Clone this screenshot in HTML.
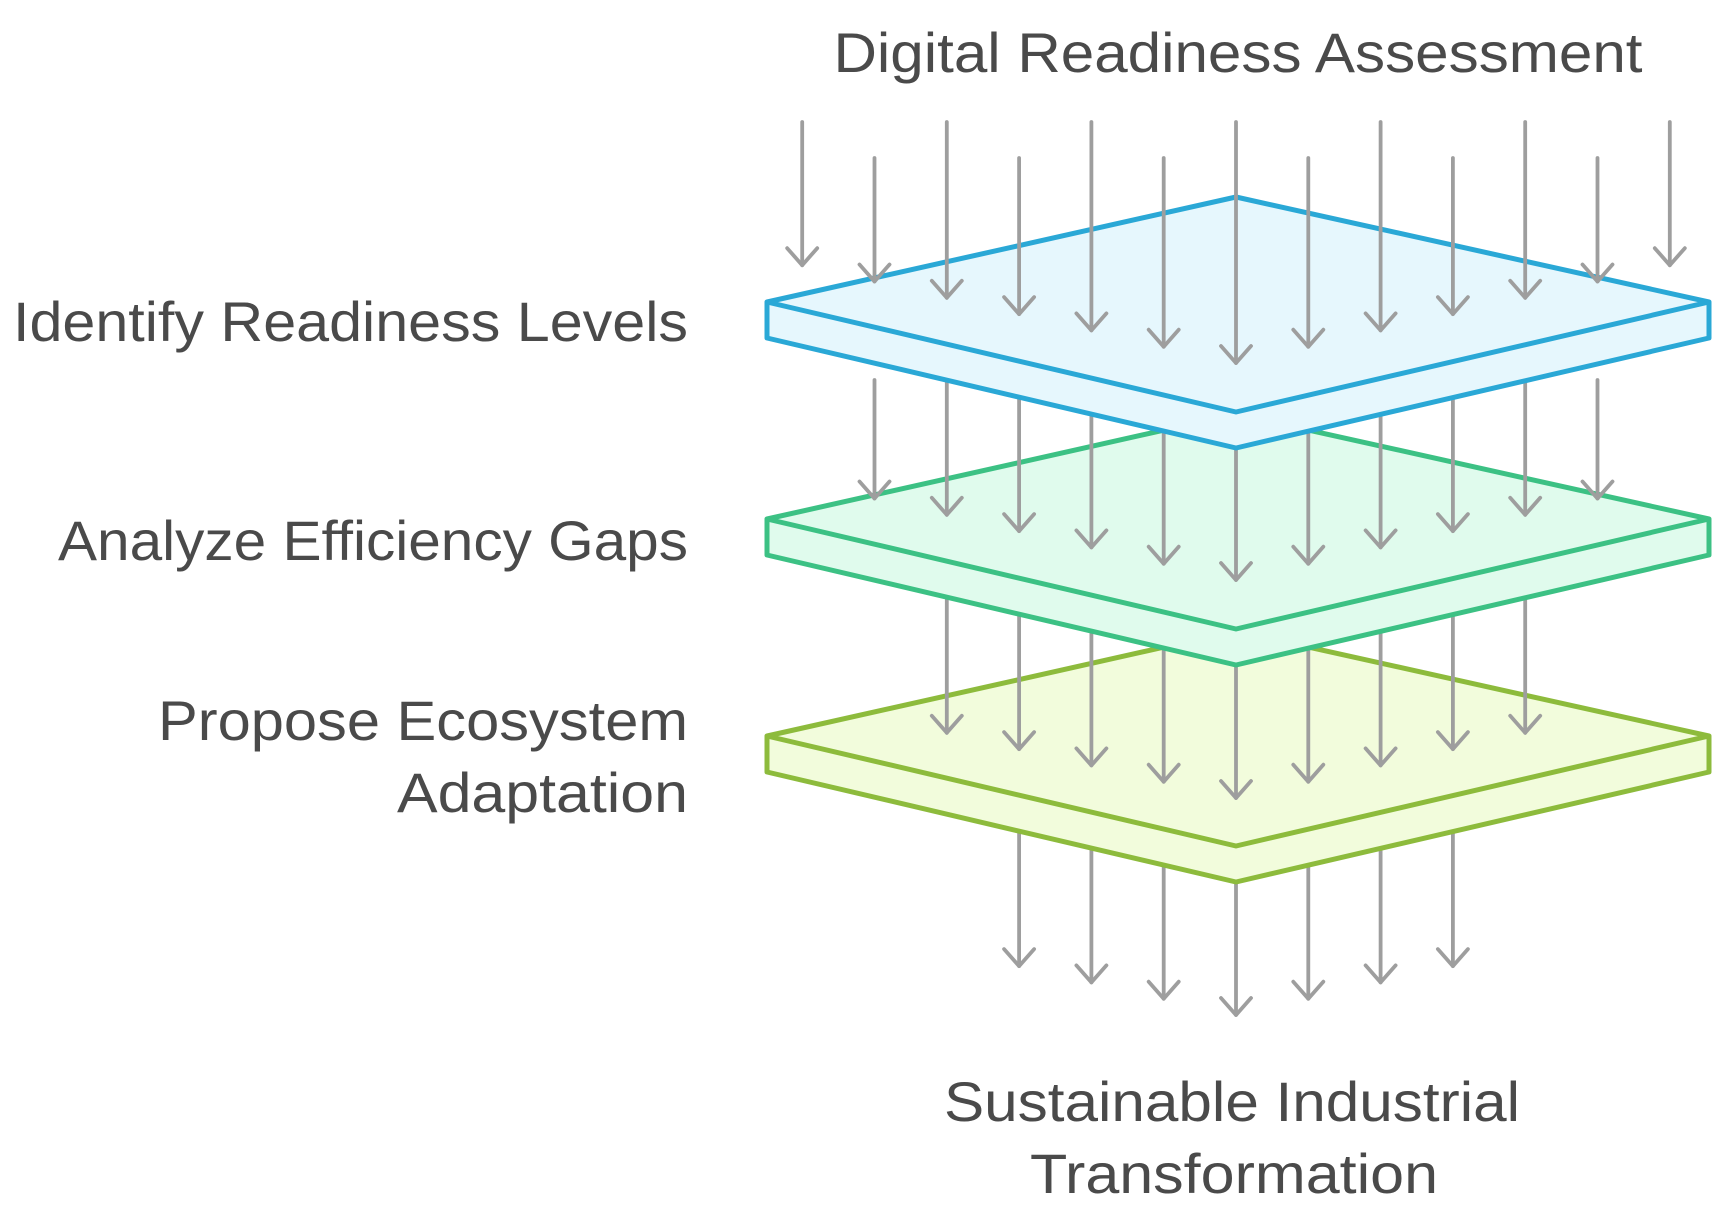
<!DOCTYPE html>
<html><head><meta charset="utf-8"><style>
html,body{margin:0;padding:0;background:#fff;}
svg{display:block;}
text{font-family:"Liberation Sans",sans-serif;fill:#4a4a4a;font-size:56px;}
</style></head><body>
<svg width="1728" height="1212" viewBox="0 0 1728 1212" xmlns="http://www.w3.org/2000/svg">
<g id="all"></g>
<text x="1238" y="72" text-anchor="middle" textLength="809" lengthAdjust="spacingAndGlyphs">Digital Readiness Assessment</text>
<text x="688" y="341" text-anchor="end" textLength="675" lengthAdjust="spacingAndGlyphs">Identify Readiness Levels</text>
<text x="688" y="560" text-anchor="end" textLength="630" lengthAdjust="spacingAndGlyphs">Analyze Efficiency Gaps</text>
<text x="688" y="740" text-anchor="end" textLength="530" lengthAdjust="spacingAndGlyphs">Propose Ecosystem</text>
<text x="688" y="812" text-anchor="end" textLength="291" lengthAdjust="spacingAndGlyphs">Adaptation</text>
<text x="1232" y="1121" text-anchor="middle" textLength="576" lengthAdjust="spacingAndGlyphs">Sustainable Industrial</text>
<text x="1234" y="1193" text-anchor="middle" textLength="408" lengthAdjust="spacingAndGlyphs">Transformation</text>
</svg>
<script>
(function(){
var g=document.getElementById('all'),ns='http://www.w3.org/2000/svg';
function el(t,a){var e=document.createElementNS(ns,t);for(var k in a)e.setAttribute(k,a[k]);g.appendChild(e);return e;}
function arrow(x,y1,y2){el('line',{x1:x,y1:y1,x2:x,y2:y2,stroke:'#9e9e9e','stroke-width':3.8,'stroke-linecap':'round'});
el('polyline',{points:(x-15)+','+(y2-17)+' '+x+','+y2+' '+(x+15)+','+(y2-17),fill:'none',stroke:'#9e9e9e','stroke-width':3.8,'stroke-linecap':'round','stroke-linejoin':'round'});}
function layer(dy,stroke,fill){
var L=767,R=1709,C=1236,T=197+dy,M=302+dy,F=412+dy,th=36;
el('polygon',{points:L+','+M+' '+C+','+T+' '+R+','+M+' '+R+','+(M+th)+' '+C+','+(F+th)+' '+L+','+(M+th),fill:fill,stroke:stroke,'stroke-width':5,'stroke-linejoin':'round'});
el('polyline',{points:L+','+M+' '+C+','+F+' '+R+','+M,fill:'none',stroke:stroke,'stroke-width':5,'stroke-linejoin':'round'});}
var dx=72.3,C=1236;
for(var k=-3;k<=3;k++)arrow(C+k*dx,820,1015-Math.abs(k)*16.3);
layer(434,'#8dbb3c','#f2fcdc');
for(var k=-4;k<=4;k++)arrow(C+k*dx,600,798-Math.abs(k)*16.3);
layer(217,'#3cc184','#e0fbed');
for(var k=-5;k<=5;k++)arrow(C+k*dx,380,580-Math.abs(k)*16.3);
layer(0,'#2aa8d6','#e6f7fd');
for(var k=-6;k<=6;k++)arrow(C+k*dx,(Math.abs(k)%2==0)?122:158,363-Math.abs(k)*16.3);
})();
</script>
</body></html>
